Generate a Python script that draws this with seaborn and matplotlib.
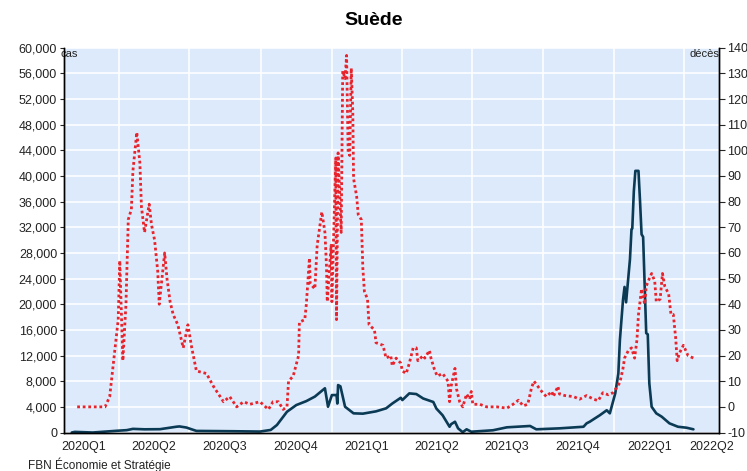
import pandas as pd
import matplotlib.pyplot as plt
import matplotlib.dates as mdates
import matplotlib.ticker as mticker
import seaborn as sns

# Cas quotidiens (axe de gauche)
cases_dates = [
    "2020-01-31", "2020-02-04", "2020-02-27", "2020-03-29", "2020-04-11", "2020-04-19",
    "2020-05-04", "2020-05-24", "2020-06-14", "2020-06-18", "2020-06-27", "2020-07-10",
    "2020-08-26", "2020-09-30", "2020-10-14", "2020-10-22", "2020-11-04", "2020-11-16",
    "2020-11-29", "2020-12-10", "2020-12-23", "2020-12-27", "2021-01-01", "2021-01-07",
    "2021-01-08", "2021-01-09", "2021-01-12", "2021-01-18", "2021-01-29", "2021-02-10",
    "2021-02-27", "2021-03-12", "2021-03-20", "2021-03-31", "2021-04-02", "2021-04-11",
    "2021-04-20", "2021-04-29", "2021-05-12", "2021-05-16", "2021-05-24", "2021-06-02",
    "2021-06-04", "2021-06-09", "2021-06-13", "2021-06-19", "2021-06-24", "2021-06-30",
    "2021-07-28", "2021-08-15", "2021-09-14", "2021-09-22", "2021-10-22", "2021-11-22",
    "2021-11-26", "2021-11-30", "2021-12-13", "2021-12-22", "2021-12-26", "2022-01-02",
    "2022-01-06", "2022-01-08", "2022-01-12", "2022-01-14", "2022-01-16", "2022-01-21",
    "2022-01-23", "2022-01-24", "2022-01-26", "2022-01-28", "2022-02-01", "2022-02-03",
    "2022-02-05", "2022-02-07", "2022-02-11", "2022-02-13", "2022-02-15", "2022-02-18",
    "2022-02-24", "2022-03-03", "2022-03-13", "2022-03-24", "2022-04-04", "2022-04-13",
]
cases = [
    0, 100, 0, 270, 370, 570,
    500, 520, 900, 950, 780, 250,
    200, 150, 400, 1170, 3240, 4280,
    4900, 5600, 6900, 4020, 5840, 5840,
    4520, 7400, 7200, 4020, 2990, 2940,
    3300, 3770, 4520, 5420, 5060, 6100,
    6000, 5300, 4760, 3730, 2690, 900,
    1300, 1680, 650, 50, 500, 125,
    350, 810, 1020, 500, 650, 900,
    1430, 1680, 2690, 3470, 2990, 6100,
    9200, 14400, 20650, 22700, 20300, 27000,
    31700, 31800, 37600, 40800, 40800, 36100,
    30900, 30500, 15500, 15300, 7680, 4020,
    2990, 2470, 1430, 900, 750, 500,
]

# Décès quotidiens (axe de droite)
death_dates = [
    "2020-02-07", "2020-03-14", "2020-03-20", "2020-03-24", "2020-03-31", "2020-04-02",
    "2020-04-06", "2020-04-10", "2020-04-13", "2020-04-17", "2020-04-19", "2020-04-24",
    "2020-04-28", "2020-04-30", "2020-05-04", "2020-05-10", "2020-05-13", "2020-05-17",
    "2020-05-21", "2020-05-23", "2020-05-30", "2020-06-02", "2020-06-06", "2020-06-10",
    "2020-06-16", "2020-06-23", "2020-06-29", "2020-07-04", "2020-07-10", "2020-07-23",
    "2020-08-01", "2020-08-14", "2020-08-22", "2020-08-31", "2020-09-09", "2020-09-17",
    "2020-09-30", "2020-10-11", "2020-10-17", "2020-10-24", "2020-10-30", "2020-11-04",
    "2020-11-06", "2020-11-12", "2020-11-19", "2020-11-20", "2020-11-27", "2020-11-29",
    "2020-12-03", "2020-12-04", "2020-12-10", "2020-12-13", "2020-12-19", "2020-12-23",
    "2020-12-25", "2020-12-26", "2020-12-31", "2021-01-01", "2021-01-03", "2021-01-06",
    "2021-01-07", "2021-01-09", "2021-01-13", "2021-01-15", "2021-01-18", "2021-01-20",
    "2021-01-22", "2021-01-24", "2021-01-26", "2021-01-28", "2021-01-29", "2021-02-02",
    "2021-02-04", "2021-02-08", "2021-02-10", "2021-02-12", "2021-02-16", "2021-02-18",
    "2021-02-25", "2021-02-27", "2021-03-08", "2021-03-12", "2021-03-18", "2021-03-20",
    "2021-03-25", "2021-03-31", "2021-04-02", "2021-04-07", "2021-04-11", "2021-04-16",
    "2021-04-20", "2021-04-22", "2021-04-29", "2021-05-01", "2021-05-05", "2021-05-07",
    "2021-05-09", "2021-05-13", "2021-05-17", "2021-05-24", "2021-05-31", "2021-06-02",
    "2021-06-04", "2021-06-09", "2021-06-11", "2021-06-15", "2021-06-19", "2021-06-24",
    "2021-06-28", "2021-06-30", "2021-07-02", "2021-07-11", "2021-07-20", "2021-08-02",
    "2021-08-15", "2021-08-23", "2021-08-30", "2021-09-05", "2021-09-11", "2021-09-16",
    "2021-09-19", "2021-09-24", "2021-09-29", "2021-10-05", "2021-10-12", "2021-10-14",
    "2021-10-20", "2021-10-22", "2021-10-29", "2021-11-09", "2021-11-17", "2021-11-26",
    "2021-12-05", "2021-12-11", "2021-12-17", "2021-12-24", "2021-12-30", "2022-01-04",
    "2022-01-08", "2022-01-12", "2022-01-14", "2022-01-19", "2022-01-23", "2022-01-27",
    "2022-01-30", "2022-02-01", "2022-02-03", "2022-02-05", "2022-02-09", "2022-02-11",
    "2022-02-15", "2022-02-18", "2022-02-22", "2022-02-24", "2022-03-01", "2022-03-04",
    "2022-03-07", "2022-03-12", "2022-03-15", "2022-03-18", "2022-03-21", "2022-03-23",
    "2022-03-26", "2022-03-31", "2022-04-06", "2022-04-13",
]
deaths = [
    0, 0, 4, 15, 34, 57,
    18, 40, 73, 77, 92, 107,
    95, 78, 68, 79, 71, 65,
    53, 40, 60, 50, 41, 36,
    32, 23, 32, 23, 14, 13,
    8, 2, 4, 0, 2, 1,
    2, -1, 2, 2, -1, 0,
    10, 12, 20, 33, 34, 40,
    58, 48, 46, 63, 76, 68,
    55, 41, 63, 41, 64, 97,
    34, 99, 68, 131, 128, 137,
    99, 98, 132, 115, 89, 82,
    75, 73, 54, 45, 42, 32,
    30, 25, 24, 19, 20, 16,
    19, 17, 14, 13, 17, 23,
    23, 18, 20, 19, 21, 22,
    19, 15, 12, 13, 10, 2,
    8, 15, 7, 2, 0, 5,
    3, 6, 1, 1, 0, 0,
    -0.5, 1, 2.6, 0.4, 1, 7.6,
    10, 8, 6, 4, 6, 4,
    8, 5, 4.4, 4, 3, 4.4,
    3, 2.4, 5.5, 4.7, 5.5, 7.6,
    9.5, 15, 19, 22, 23, 19,
    26, 36, 41, 46, 40, 47,
    50, 52, 49, 41, 42, 52,
    47, 44, 36, 36, 27, 18,
    21, 24, 20, 19,
]

# étiquettes de trimestres
quarters = ["2020Q1", "2020Q2", "2020Q3", "2020Q4", "2021Q1", "2021Q2",
            "2021Q3", "2021Q4", "2022Q1", "2022Q2"]

df_cases = pd.DataFrame({"date": pd.to_datetime(cases_dates), "cas": cases})
df_deaths = pd.DataFrame({"date": pd.to_datetime(death_dates), "deces": deaths})

sns.set_style("white")
plt.rcParams["font.family"] = ["Liberation Sans", "DejaVu Sans"]
plt.rcParams["axes.unicode_minus"] = False

fig, ax = plt.subplots(figsize=(7.47, 4.71), dpi=100)
fig.subplots_adjust(left=0.0857, right=0.9625, bottom=0.0817, top=0.8987)
ax.set_facecolor("#DDEAFB")

sns.lineplot(data=df_cases, x="date", y="cas", ax=ax, color="#0B3A55", linewidth=1.9)

ax2 = ax.twinx()
sns.lineplot(data=df_deaths, x="date", y="deces", ax=ax2, color="#E8232B",
             linewidth=2.0, linestyle=(0, (1, 1)))

x_start, x_end = pd.Timestamp("2020-01-21"), pd.Timestamp("2022-05-16")
ax.set_xlim(x_start, x_end)
ax.set_ylim(0, 60000)
ax2.set_ylim(-10, 140)
ax.yaxis.set_major_locator(mticker.MultipleLocator(4000))
ax.yaxis.set_major_formatter(mticker.FuncFormatter(lambda v, p: f"{v:,.0f}"))
ax2.yaxis.set_major_locator(mticker.MultipleLocator(10))

# trimestres : traits aux débuts, étiquettes au milieu (la dernière reste dans l'axe)
ax.xaxis.set_major_locator(mdates.MonthLocator(bymonth=[1, 4, 7, 10]))
ax.xaxis.set_major_formatter(mticker.NullFormatter())
q_pos = []
for q in quarters:
    start = pd.Period(q, freq="Q").start_time
    mid = start + pd.Timedelta(days=45)
    q_pos.append(mdates.date2num(min(mid, x_end - pd.Timedelta(days=9))))
ax.xaxis.set_minor_locator(mticker.FixedLocator(q_pos))
ax.xaxis.set_minor_formatter(mticker.FixedFormatter(quarters))

ax.grid(True, which="major", color="white", linewidth=1.1)
ax.set_axisbelow(True)
ax.set_xlabel("")
ax.set_ylabel("")
ax2.set_ylabel("")

ax.tick_params(axis="x", which="major", length=5, width=1, color="#333333")
ax.tick_params(axis="x", which="minor", length=0, labelsize=9, pad=6, labelcolor="#222222")
ax.tick_params(axis="y", length=3, labelsize=9, pad=2, labelcolor="#222222")
ax2.tick_params(axis="y", length=4, labelsize=9, pad=2, labelcolor="#222222")

for a in (ax, ax2):
    a.spines["top"].set_visible(False)
    for s in ("left", "right", "bottom"):
        a.spines[s].set_color("black")
        a.spines[s].set_linewidth(1.0)

ax.text(-0.005, 0.997, "cas", transform=ax.transAxes, ha="left", va="top",
        fontsize=8, color="#222222")
ax.text(1.0, 0.997, "décès", transform=ax.transAxes, ha="right", va="top",
        fontsize=8, color="#222222")

fig.suptitle("Suède", fontsize=14, fontweight="bold", y=0.975, color="black")
fig.text(0.037, 0.004, "FBN Économie et Stratégie", fontsize=8.5, color="#222222")

plt.savefig("out.png", dpi=100)
